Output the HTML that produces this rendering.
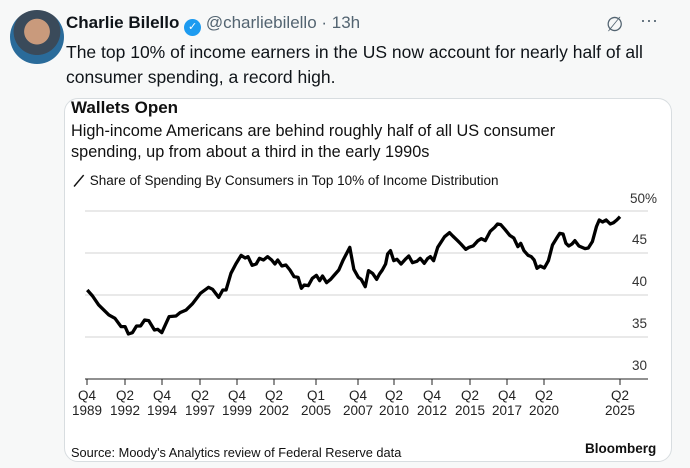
<!DOCTYPE html>
<html><head><meta charset="utf-8"><style>
body{margin:0;width:690px;height:468px;background:#f7f8f8;font-family:"Liberation Sans",sans-serif;position:relative;overflow:hidden;color:#0f1419}
.a{position:absolute;white-space:nowrap}
.card{position:absolute;left:64px;top:98px;width:606px;height:362px;background:#fff;border:1px solid #d8dde0;border-radius:14px}
.t{font-size:13.5px;color:#222;text-align:center;width:40px;line-height:15px}
.y{font-size:13.5px;color:#333;text-align:right;width:40px}
</style></head><body>
<div class="a" style="left:10px;top:10px;width:54px;height:54px;border-radius:50%;background:radial-gradient(circle at 50% 40%,#c99a7c 0 30%,#3a4a5a 31% 55%,#2a6b9a 56%)"></div>
<div class="a" style="left:66px;top:13px;font-size:17px"><b>Charlie Bilello</b> <span style="display:inline-block;width:17px;height:17px;border-radius:50%;background:#1d9bf0;color:#fff;font-size:11px;text-align:center;line-height:17px;vertical-align:-2px">✓</span> <span style="color:#536471">@charliebilello · 13h</span></div>
<div class="a" style="left:606px;top:12px;font-size:20px;color:#536471">∅</div>
<div class="a" style="left:640px;top:10px;font-size:18px;color:#536471">···</div>
<div class="a" style="left:66px;top:40px;font-size:17.5px;line-height:25px;color:#0f1419">The top 10% of income earners in the US now account for nearly half of all<br>consumer spending, a record high.</div>
<div class="card"></div>
<div class="a" style="left:71px;top:98px;font-size:17px;font-weight:bold;color:#111">Wallets Open</div>
<div class="a" style="left:71px;top:121px;font-size:16.3px;line-height:21px;color:#111">High-income Americans are behind roughly half of all US consumer<br>spending, up from about a third in the early 1990s</div>
<div class="a" style="left:71px;top:172px;font-size:13.5px;color:#111"><span style="display:inline-block;transform:rotate(-50deg);font-weight:bold;font-size:15px">—</span> Share of Spending By Consumers in Top 10% of Income Distribution</div>
<div class="a y" style="left:617px;top:191px">50%</div>
<div class="a y" style="left:607px;top:232px">45</div>
<div class="a y" style="left:607px;top:274px">40</div>
<div class="a y" style="left:607px;top:316px">35</div>
<div class="a y" style="left:607px;top:358px">30</div>
<svg class="a" style="left:0;top:0" width="690" height="468">
<g stroke="#e2e2e2" stroke-width="1.5"><line x1="85" x2="648" y1="211" y2="211"/><line x1="85" x2="648" y1="253" y2="253"/><line x1="85" x2="648" y1="295" y2="295"/><line x1="85" x2="648" y1="337" y2="337"/></g>
<line x1="85" x2="648" y1="379" y2="379" stroke="#222" stroke-width="1"/>
<g stroke="#222"><line x1="87" x2="87" y1="379" y2="385"/><line x1="125" x2="125" y1="379" y2="385"/><line x1="162" x2="162" y1="379" y2="385"/><line x1="200" x2="200" y1="379" y2="385"/><line x1="237" x2="237" y1="379" y2="385"/><line x1="274" x2="274" y1="379" y2="385"/><line x1="316" x2="316" y1="379" y2="385"/><line x1="358" x2="358" y1="379" y2="385"/><line x1="394" x2="394" y1="379" y2="385"/><line x1="432" x2="432" y1="379" y2="385"/><line x1="470" x2="470" y1="379" y2="385"/><line x1="507" x2="507" y1="379" y2="385"/><line x1="544" x2="544" y1="379" y2="385"/><line x1="620" x2="620" y1="379" y2="385"/></g>
<g transform="translate(60,190) scale(0.407,0.3333)"><polyline fill="none" stroke="#000" stroke-width="3.3" vector-effect="non-scaling-stroke" stroke-linejoin="round" points="67,300 80,318 95,345 120,375 135,385 150,410 160,410 168,432 178,428 188,408 198,408 208,390 218,392 232,420 240,418 250,428 268,380 285,378 295,368 310,360 325,342 345,310 365,292 375,298 390,322 400,300 408,300 420,250 432,222 445,196 455,204 462,200 472,226 482,222 490,205 500,210 510,200 520,210 528,222 535,210 545,228 555,225 565,240 575,260 585,262 593,295 600,285 610,287 620,265 630,256 638,272 645,258 655,278 665,268 672,258 685,240 695,212 712,172 722,238 733,262 740,268 750,290 758,242 768,250 778,268 785,252 792,240 800,222 805,192 812,182 820,212 828,208 838,222 850,206 857,198 866,218 877,214 885,205 895,220 903,206 910,200 918,212 928,172 945,140 957,128 965,138 977,152 985,162 997,178 1005,172 1015,168 1027,152 1035,146 1045,152 1057,124 1068,112 1075,102 1083,104 1093,118 1105,136 1115,144 1125,170 1132,160 1140,182 1150,196 1158,200 1165,210 1172,235 1180,228 1190,234 1200,212 1210,165 1220,145 1228,130 1236,132 1243,160 1250,168 1258,162 1265,152 1275,168 1290,176 1298,174 1308,155 1318,110 1325,90 1333,96 1342,90 1352,102 1360,98 1368,90 1376,80"/></g>
</svg>
<div class="a t" style="left:67px;top:388px">Q4<br>1989</div>
<div class="a t" style="left:105px;top:388px">Q2<br>1992</div>
<div class="a t" style="left:142px;top:388px">Q4<br>1994</div>
<div class="a t" style="left:180px;top:388px">Q2<br>1997</div>
<div class="a t" style="left:217px;top:388px">Q4<br>1999</div>
<div class="a t" style="left:254px;top:388px">Q2<br>2002</div>
<div class="a t" style="left:296px;top:388px">Q1<br>2005</div>
<div class="a t" style="left:338px;top:388px">Q4<br>2007</div>
<div class="a t" style="left:374px;top:388px">Q2<br>2010</div>
<div class="a t" style="left:412px;top:388px">Q4<br>2012</div>
<div class="a t" style="left:450px;top:388px">Q2<br>2015</div>
<div class="a t" style="left:487px;top:388px">Q4<br>2017</div>
<div class="a t" style="left:524px;top:388px">Q2<br>2020</div>
<div class="a t" style="left:600px;top:388px">Q2<br>2025</div>
<div class="a" style="left:71px;top:445px;font-size:12.8px;color:#111">Source: Moody's Analytics review of Federal Reserve data</div>
<div class="a" style="left:585px;top:441px;font-size:13.5px;font-weight:bold;color:#111">Bloomberg</div>
</body></html>
